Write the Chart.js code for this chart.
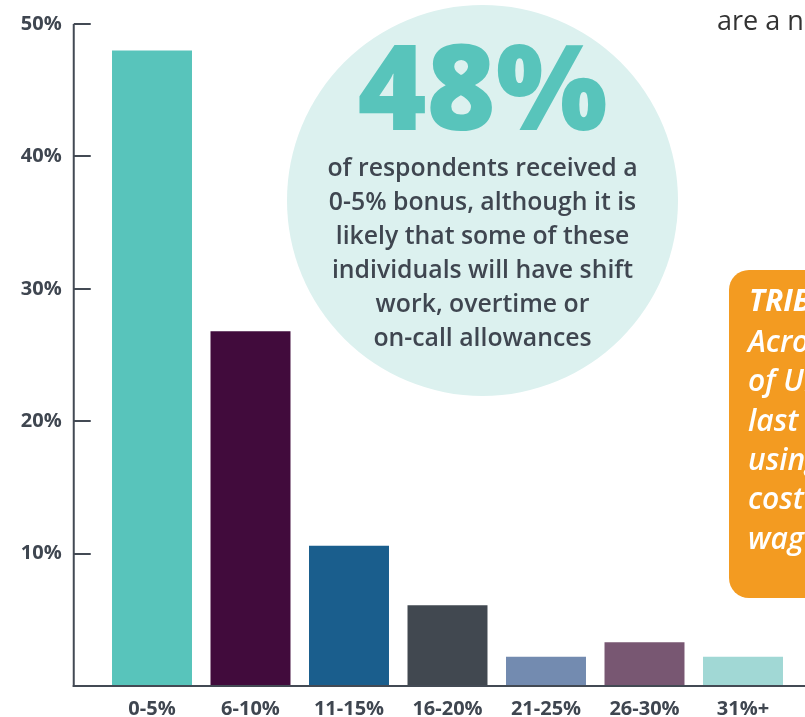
<!DOCTYPE html>
<html>
<head>
<meta charset="utf-8">
<title>Bonus distribution</title>
<script src="https://cdn.jsdelivr.net/npm/chart.js@4/dist/chart.umd.min.js"></script>
<style>
  html, body { margin: 0; padding: 0; background: #fff; }
  #wrap { width: 805px; height: 717px; position: relative; }
</style>
</head>
<body>
<div id="wrap"><canvas id="bonus" width="805" height="717"></canvas></div>
<script>
// ── Data ─────────────────────────────────────────────────────────────────────

const categories = ['0-5%', '6-10%', '11-15%', '16-20%', '21-25%', '26-30%', '31%+'];
const shares = [48, 26.8, 10.6, 6.1, 2.2, 3.3, 2.2];
const barColors = ['#58c4bb', '#410b3c', '#1a5e8d', '#414850', '#738bb0', '#785772', '#a1d8d5'];
const yTickValues = [10, 20, 30, 40, 50];

const calloutLines = [
  'of respondents received a',
  '0-5% bonus, although it is',
  'likely that some of these',
  'individuals will have shift',
  'work, overtime or',
  'on-call allowances'
];
const sideBoxTitle = 'TRIBUNALS';
const sideBoxLines = ['Across', 'of UK', 'last', 'using', 'cost', 'wage'];
const topRightText = 'are a number';

// ── Styling ─────────────────────────────────────────────────────────────────

const FONT = "'Open Sans', 'Noto Sans', sans-serif";
const AXIS = '#434a54';
const TEXT = '#3f4650';

// Achsen: Linie links vom Plotbereich mit nach innen zeigenden Ticks
const axisLines = {
  id: 'axisLines',
  afterDatasetsDraw(chart) {
    const { ctx, chartArea, scales } = chart;
    const y = scales.y;
    const axisX = chartArea.left - 29;
    ctx.save();
    ctx.strokeStyle = AXIS;
    ctx.lineWidth = 2;
    ctx.beginPath();
    ctx.moveTo(axisX, y.getPixelForValue(50));
    ctx.lineTo(axisX, chartArea.bottom + 1);
    ctx.stroke();
    yTickValues.forEach(v => {
      const py = Math.round(y.getPixelForValue(v));
      ctx.beginPath();
      ctx.moveTo(axisX, py);
      ctx.lineTo(axisX + 17, py);
      ctx.stroke();
    });
    ctx.beginPath();
    ctx.moveTo(axisX - 1, chartArea.bottom);
    ctx.lineTo(chart.width, chartArea.bottom);
    ctx.stroke();
    ctx.restore();
  }
};

// Kreis mit Kennzahl, orange Box rechts und Fliesstext oben
const callouts = {
  id: 'callouts',
  beforeDatasetsDraw(chart) {
    const { ctx } = chart;
    ctx.save();

    // Kreis
    ctx.fillStyle = '#dcf1ef';
    ctx.beginPath();
    ctx.arc(482.5, 200.5, 195.5, 0, Math.PI * 2);
    ctx.fill();

    ctx.textAlign = 'center';
    ctx.textBaseline = 'alphabetic';
    ctx.fillStyle = '#58c4bb';
    ctx.font = `800 118px ${FONT}`;
    ctx.fillText(shares[0] + '%', 482.5, 130);

    ctx.fillStyle = TEXT;
    ctx.font = `600 24.8px ${FONT}`;
    calloutLines.forEach((line, i) => {
      ctx.fillText(line, 482.5, 176 + i * 34);
    });

    // Orange Box (rechts angeschnitten)
    ctx.fillStyle = '#f39b21';
    ctx.beginPath();
    ctx.roundRect(729, 270, 120, 328, 20);
    ctx.fill();

    ctx.textAlign = 'left';
    ctx.fillStyle = '#ffffff';
    ctx.font = `italic 700 30px ${FONT}`;
    ctx.fillText(sideBoxTitle, 749, 311);
    ctx.font = `italic 600 30px ${FONT}`;
    sideBoxLines.forEach((line, i) => {
      ctx.fillText(line, 748, 352 + i * 39.3);
    });

    // Fliesstext oben rechts
    ctx.fillStyle = '#333333';
    ctx.font = `400 27px ${FONT}`;
    ctx.fillText(topRightText, 717, 30);

    ctx.restore();
  }
};

// ── Chart ────────────────────────────────────────────────────────────────────

new Chart(document.getElementById('bonus'), {
  type: 'bar',
  data: {
    labels: categories,
    datasets: [{
      data: shares,
      backgroundColor: barColors,
      borderWidth: 0,
      barPercentage: 0.812,
      categoryPercentage: 1
    }]
  },
  options: {
    responsive: false,
    devicePixelRatio: 1,
    animation: false,
    layout: { autoPadding: false, padding: { top: 24, right: 12.75, bottom: 0, left: 0 } },
    plugins: {
      legend: { display: false },
      tooltip: { enabled: false }
    },
    scales: {
      x: {
        grid: { display: false, drawTicks: false },
        border: { display: false },
        ticks: {
          color: TEXT,
          font: { family: FONT, size: 20, weight: '700' },
          padding: 11,
          maxRotation: 0
        },
        afterFit: scale => { scale.height = 31; }
      },
      y: {
        min: 0,
        max: 50,
        grid: { display: false, drawTicks: false },
        border: { display: false },
        afterBuildTicks: scale => {
          scale.ticks = yTickValues.map(v => ({ value: v }));
        },
        ticks: {
          color: TEXT,
          font: { family: FONT, size: 20, weight: '700' },
          padding: 41,
          callback: v => v + '%'
        },
        // Tick-Padding nur horizontal, nicht oben/unten
        afterFit: scale => {
          scale.width = 102.75;
          scale.paddingTop = 0;
          scale.paddingBottom = 0;
        }
      }
    }
  },
  plugins: [callouts, axisLines]
});
</script>
</body>
</html>
